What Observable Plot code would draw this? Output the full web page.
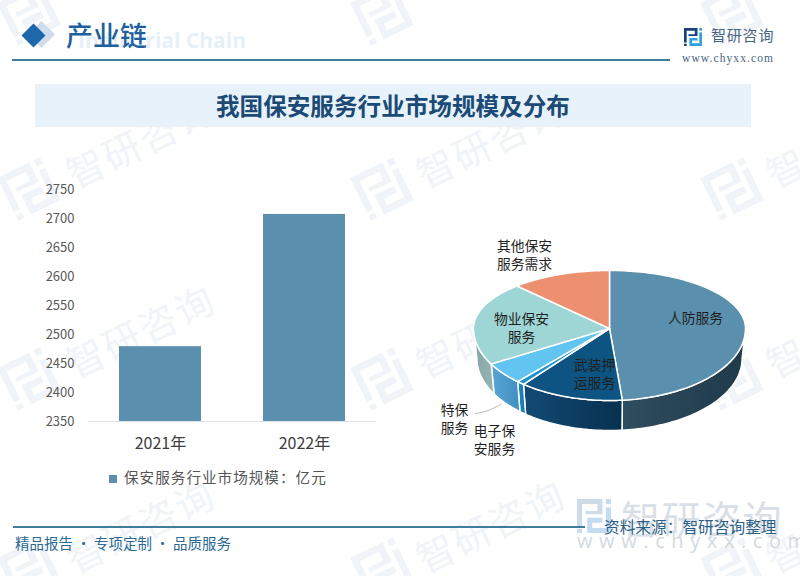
<!DOCTYPE html>
<html lang="zh">
<head>
<meta charset="utf-8">
<script src="https://cdn.jsdelivr.net/npm/d3@7"></script>
<script src="https://cdn.jsdelivr.net/npm/@observablehq/plot@0.6"></script>
<style>
html,body{margin:0;padding:0;background:#fff}
#page{position:relative;width:800px;height:576px;overflow:hidden;background:#fff;font-family:"Noto Sans CJK SC","Noto Sans",sans-serif}
#page>*{position:absolute}
.t{white-space:nowrap;line-height:1}
.wm{color:#f0f4f8;font-size:38px;letter-spacing:2px;transform:translate(-50%,-50%) rotate(-26deg)}
</style>
</head>
<body>
<div id="page"></div>
<script>
// ---- data ----
const years = ["2021年", "2022年"];
const marketSize = [2479, 2707];
const yTicks = [2350, 2400, 2450, 2500, 2550, 2600, 2650, 2700, 2750];

const sliceNames = ["人防服务", "武装押运服务", "电子保安服务", "特保服务", "物业保安服务", "其他保安服务需求"];
const sliceShares = [48.5, 12.4, 0.9, 5.0, 21.3, 11.9];
const sliceColors = ["#5a8fad", "#0e5482", "#1c92cf", "#62c4f0", "#9ed5d5", "#ec9070"];
const wallColors = [["#2f4d60", "#1f3a49"], ["#124a75", "#07304f"], ["#1a86c0", "#1578ad"], ["#5aa6d6", "#3f8fc0"], ["#82a5a5", "#96b6b4"]];

const sliceLabels = ["人防服务", "武装押\n运服务", "", "", "物业保安\n服务", "其他保安\n服务需求"];
const outerLabels = ["特保\n服务", "电子保\n安服务"];

// ---- page furniture ----
const page = document.getElementById("page");
function text(str, left, top, size, color, extra = {}) {
  const d = document.createElement("div");
  d.className = "t";
  d.textContent = str;
  Object.assign(d.style, {left: left + "px", top: top + "px", fontSize: size + "px", color}, extra);
  page.appendChild(d);
  return d;
}
function box(left, top, w, h, color, extra = {}) {
  const d = document.createElement("div");
  Object.assign(d.style, {left: left + "px", top: top + "px", width: w + "px", height: h + "px", background: color}, extra);
  page.appendChild(d);
  return d;
}
function logo(left, top, size, c1, c2, rotate = 0) {
  const d = document.createElement("div");
  d.style.cssText = `left:${left}px;top:${top}px;width:${size}px;height:${size}px;transform:rotate(${rotate}deg)`;
  d.innerHTML = `<svg viewBox="0 0 20 20" width="${size}" height="${size}">
    <path d="M0 0H15V9H5V7H12V3H3V16H0Z" fill="${c1}"/>
    <rect x="0" y="17.5" width="3" height="2.5" fill="${c1}"/>
    <path d="M6 11H15V14H9V17H20V20H6Z" fill="${c2}"/>
    <rect x="17" y="0" width="3" height="3" fill="${c2}"/>
    <rect x="17" y="5" width="3" height="12" fill="${c2}"/></svg>`;
  page.appendChild(d);
}

// watermarks
for (const x of [140, 490, 840]) for (const y of [140, 330, 525]) {
  const w = text("智研咨询", x, y, 38, "#f0f4f8");
  w.classList.add("wm");
}
for (const x of [5, 358, 708]) for (const y of [-10, 165, 355, 545]) logo(x, y, 48, "#f0f4f8", "#f0f4f8", -26);

// header
box(32, 25, 19, 19, "#cfdcec", {transform: "rotate(45deg)"});
box(25, 27, 17, 17, "#1d67ab", {transform: "rotate(45deg)"});
text("Industrial Chain", 78, 30, 21, "#e6f0f9", {fontWeight: 700, fontFamily: "'Open Sans',sans-serif"});
text("产业链", 66, 21, 27, "#1e5f9e", {fontWeight: 500});
box(12, 59, 658, 1.5, "#3f7d9c");
logo(684, 27, 18, "#1b3f7a", "#2f9fe0");
text("智研咨询", 711, 27, 15, "#48657f", {letterSpacing: ".8px"});
text("www.chyxx.com", 682, 53, 11.5, "#4a6680", {fontFamily: "'Liberation Serif',serif", letterSpacing: "1.1px"});

// title band
box(35, 84, 716, 43, "#e8f2fb");
text("我国保安服务行业市场规模及分布", 216, 94, 23.6, "#1b4a76", {fontWeight: 700});

// ---- bars ----
const barData = years.map((year, i) => ({year, value: marketSize[i]}));
const bars = Plot.plot({
  width: 390, height: 290, marginLeft: 88, marginRight: 14, marginTop: 19, marginBottom: 39,
  style: {background: "transparent", fontFamily: "'Noto Sans CJK SC',sans-serif"},
  x: {domain: years, paddingInner: 0.43, paddingOuter: 0.215, label: null},
  y: {domain: [2350, 2750], label: null},
  marks: [
    Plot.barY(barData, {x: "year", y1: 2350, y2: "value", fill: "#5a8fad"}),
    Plot.ruleY([2350], {stroke: "#dfe3e6", strokeWidth: 1}),
    Plot.axisY({ticks: yTicks, tickSize: 0, tickPadding: 14, fontSize: 13, fill: "#595959", label: null, tickFormat: d => String(d)}),
    Plot.axisX({tickSize: 0, tickPadding: 16, fontSize: 16, fill: "#404040", label: null})
  ]
});
bars.style.left = "0px"; bars.style.top = "170px"; bars.style.position = "absolute";
page.appendChild(bars);

// legend
box(109, 475, 8, 8, "#5a8fad");
text("保安服务行业市场规模：亿元", 124, 470, 14.6, "#555", {letterSpacing: "1px"});

// ---- pie ----
const total = d3.sum(sliceShares);
const cum = d3.cumsum(sliceShares).map(v => v / total * 2 * Math.PI);
const starts = [0, ...cum.slice(0, -1)];
const frontStretch = 72 / 58, wallDepth = 30 / 58, wallShrink = 0.975;
const rim = a => ({x: Math.sin(a), y: Math.cos(a) * (Math.cos(a) < 0 ? frontStretch : 1)});
const arc = (a0, a1) => d3.range(0, 61).map(i => rim(a0 + (a1 - a0) * i / 60));

const tops = sliceShares.map((_, i) => [{x: 0, y: 0}, ...arc(starts[i], cum[i]), {x: 0, y: 0}]);
const walls = [];
sliceShares.forEach((_, i) => {
  const a0 = Math.max(starts[i], Math.PI / 2), a1 = Math.min(cum[i], 3 * Math.PI / 2);
  if (a1 <= a0) return;
  const upper = arc(a0, a1);
  const lower = upper.map(p => ({x: p.x * wallShrink, y: p.y - wallDepth})).reverse();
  walls.push({i, pts: [...upper, ...lower, upper[0]]});
});

const gradients = () => {
  const defs = document.createElementNS("http://www.w3.org/2000/svg", "defs");
  defs.innerHTML = wallColors.map((c, i) =>
    `<linearGradient id="wall${i}" x1="0" x2="1" y1="0" y2="0"><stop offset="0" stop-color="${c[0]}"/><stop offset="1" stop-color="${c[1]}"/></linearGradient>`).join("");
  return defs;
};

const px = v => (v - 609) / 136, py = v => (328 - v) / 58;
const insideAt = [[695, 317], [594, 373], null, null, [521, 327], [524, 254]];
const insideText = sliceLabels.map((label, i) => insideAt[i] && {label, x: px(insideAt[i][0]), y: py(insideAt[i][1])}).filter(Boolean);
const outerText = [[454, 418], [494, 439]].map(([a, b], i) => ({label: outerLabels[i], x: px(a), y: py(b)}));
const leader = [[475, 413], [487, 411], [500, 404]].map(([a, b]) => ({x: px(a), y: py(b)}));

const pie = Plot.plot({
  width: 350, height: 250, margin: 0,
  style: {background: "transparent", fontFamily: "'Noto Sans CJK SC',sans-serif"},
  x: {axis: null, domain: [-1, 1], range: [43, 315]},
  y: {axis: null, domain: [1, -1], range: [50, 166]},
  marks: [
    gradients,
    ...walls.map(w => Plot.line(w.pts, {x: "x", y: "y", fill: `url(#wall${w.i})`, stroke: "#fff", strokeWidth: 1.5})),
    ...tops.map((pts, i) => Plot.line(pts, {x: "x", y: "y", fill: sliceColors[i], stroke: "#fff", strokeWidth: 1.5})),
    Plot.line(leader, {x: "x", y: "y", stroke: "#a8a8a8", strokeWidth: 0.8, curve: "basis"}),
    Plot.text(insideText, {x: "x", y: "y", text: "label", fontSize: 13.8, fill: "#1f1f1f", lineHeight: 1.3}),
    Plot.text(outerText, {x: "x", y: "y", text: "label", fontSize: 13.8, fill: "#1f1f1f", lineHeight: 1.3})
  ]
});
pie.style.left = "430px"; pie.style.top = "220px"; pie.style.position = "absolute";
page.appendChild(pie);

// ---- footer ----
logo(577, 499, 34, "#cddcea", "#c3dcf2");
text("智研咨询", 621, 498, 39, "#d9dfe6", {letterSpacing: "1.5px"});
text("www.chyxx.com", 577, 531, 20, "#d3d9df", {letterSpacing: "6.6px", fontFamily: "'Open Sans',sans-serif"});
box(13, 526, 572, 1.5, "#3f7d9c");
text("资料来源：智研咨询整理", 604, 519, 15.7, "#2b6086");
text("精品报告 · 专项定制 · 品质服务", 15, 536, 14.5, "#2a6a95");
</script>
</body>
</html>
